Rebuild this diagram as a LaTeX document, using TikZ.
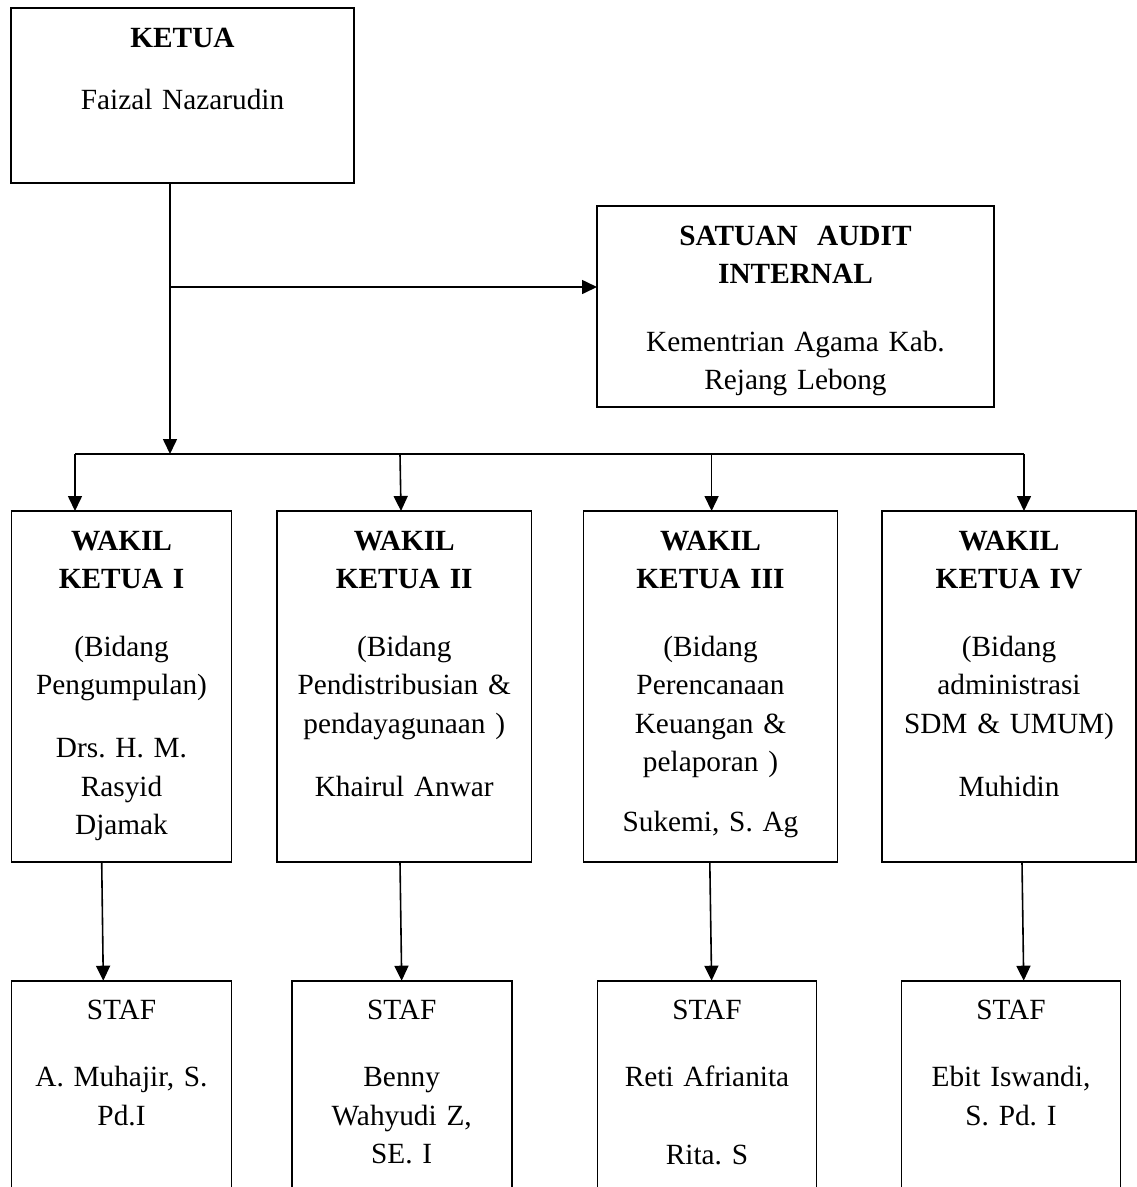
\documentclass[tikz,border=0pt]{standalone}
\usepackage{fontspec}
\setmainfont{Liberation Serif}
\frenchspacing
\usetikzlibrary{arrows.meta,calc}
\tikzset{
  box/.style={draw, line width=1.6pt, inner sep=0pt, outer sep=0pt},
  txt/.style={anchor=base, align=center, inner sep=0pt,
    font=\fontsize{29.3pt}{38.3pt}\selectfont\frenchspacing},
  conn/.style={line width=1.6pt},
  arr/.style={line width=1.6pt, -{Triangle[length=15pt,width=14pt]}},
}
\begin{document}
\begin{tikzpicture}[x=1pt,y=-1pt]
\clip (0,0) rectangle (1137,1187);
\fill[white] (0,0) rectangle (1137,1187);
% boxes
\node[box, minimum width=343pt, minimum height=175pt] (k) at (182.5,95.5) {};
\node[box, minimum width=397pt, minimum height=201pt] (sai) at (795.5,306.5) {};
\node[box, minimum width=220pt, minimum height=351pt] (w1) at (121.5,686.5) {};
\node[box, minimum width=254.5pt, minimum height=351pt] (w2) at (404.25,686.5) {};
\node[box, minimum width=254pt, minimum height=351pt] (w3) at (710.5,686.5) {};
\node[box, minimum width=254pt, minimum height=351pt] (w4) at (1009,686.5) {};
\node[box, minimum width=220pt, minimum height=219pt] (s1) at (121.5,1090.2) {};
\node[box, minimum width=220pt, minimum height=219pt] (s2) at (401.7,1090.2) {};
\node[box, minimum width=219pt, minimum height=219pt] (s3) at (707,1090.2) {};
\node[box, minimum width=219pt, minimum height=219pt] (s4) at (1011,1090.2) {};
% texts
\node[txt, text width=330pt] (tk) at ([yshift=-39.2pt]k.north)
  {\textbf{KETUA}\\[23.7pt]Faizal Nazarudin};
\node[txt, text width=390pt] (tsai) at ([yshift=-39.2pt]sai.north)
  {\textbf{SATUAN\ \ AUDIT}\\\textbf{INTERNAL}\\[29.7pt]Kementrian Agama Kab.\\Rejang Lebong};
\node[txt, text width=215pt] (tw1) at ([yshift=-39.2pt]w1.north)
  {\textbf{WAKIL}\\\textbf{KETUA I}\\[29.7pt](Bidang\\Pengumpulan)\\[24.7pt]Drs. H. M.\\Rasyid\\Djamak};
\node[txt, text width=250pt] (tw2) at ([yshift=-39.2pt]w2.north)
  {\textbf{WAKIL}\\\textbf{KETUA II}\\[29.7pt](Bidang\\Pendistribusian \&\\pendayagunaan )\\[24.7pt]Khairul Anwar};
\node[txt, text width=250pt] (tw3) at ([yshift=-39.2pt]w3.north)
  {\textbf{WAKIL}\\\textbf{KETUA III}\\[29.7pt](Bidang\\Perencanaan\\Keuangan \&\\pelaporan )\\[22pt]Sukemi, S. Ag};
\node[txt, text width=250pt] (tw4) at ([yshift=-39.2pt]w4.north)
  {\textbf{WAKIL}\\\textbf{KETUA IV}\\[29.7pt](Bidang\\administrasi\\SDM \& UMUM)\\[24.7pt]Muhidin};
\node[txt, text width=215pt] (ts1) at ([yshift=-39.2pt]s1.north)
  {STAF\\[28.7pt]A. Muhajir, S.\\Pd.I};
\node[txt, text width=215pt] (ts2) at ([yshift=-39.2pt]s2.north)
  {STAF\\[28.7pt]Benny\\Wahyudi Z,\\SE. I};
\node[txt, text width=215pt] (ts3) at ([yshift=-39.2pt]s3.north)
  {STAF\\[28.7pt]Reti Afrianita\\[39.7pt]Rita. S};
\node[txt, text width=215pt] (ts4) at ([yshift=-39.2pt]s4.north)
  {STAF\\[28.7pt]Ebit Iswandi,\\S. Pd. I};
% connector points
\coordinate (j) at (170,454);
\coordinate (sj) at (170,287);
\coordinate (b1) at (75,454);
\coordinate (b2) at (400,454);
\coordinate (b2e) at (401,454);
\coordinate (b3) at (711.6,454);
\coordinate (b4) at (1024,454);
\coordinate (d1a) at (101.7,0);
\coordinate (d1b) at (103.3,0);
\coordinate (d2a) at (400,0);
\coordinate (d2b) at (401.7,0);
\coordinate (d3a) at (709.8,0);
\coordinate (d3b) at (711.6,0);
\coordinate (d4a) at (1022,0);
\coordinate (d4b) at (1023.7,0);
% connectors
\draw[arr] (k.south -| j) -- (j);
\draw[arr] (sj) -- (sai.west |- sj);
\draw[conn] (b1) -- (b4);
\draw[arr] (b1) -- (w1.north -| b1);
\draw[arr] (b2) -- (w2.north -| b2e);
\draw[arr] (b3) -- (w3.north -| b3);
\draw[arr] (b4) -- (w4.north -| b4);
\draw[arr] (w1.south -| d1a) -- (s1.north -| d1b);
\draw[arr] (w2.south -| d2a) -- (s2.north -| d2b);
\draw[arr] (w3.south -| d3a) -- (s3.north -| d3b);
\draw[arr] (w4.south -| d4a) -- (s4.north -| d4b);
\end{tikzpicture}
\end{document}
